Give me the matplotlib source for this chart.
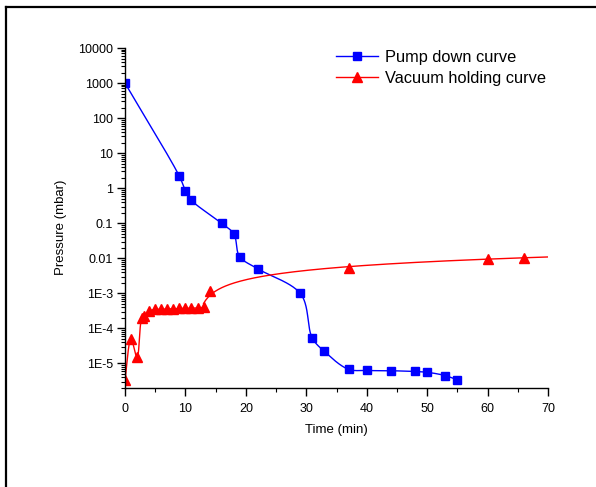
import numpy as np
import matplotlib
matplotlib.use("Agg")
import matplotlib.pyplot as plt
from matplotlib.ticker import LogLocator, FixedLocator, FixedFormatter, MultipleLocator, NullFormatter
from matplotlib.lines import Line2D

plt.rcParams['font.family'] = ['Liberation Sans', 'DejaVu Sans']

# ---- data ----
pump_t = [0, 9, 10, 11, 16, 18, 19, 22, 29, 31, 33, 37, 40, 44, 48, 50, 53, 55]
pump_p = [1000, 2.2, 0.85, 0.45, 0.1, 0.05, 0.011, 0.005, 0.001, 5.3e-5, 2.2e-5,
          6.8e-6, 6.3e-6, 6.2e-6, 5.9e-6, 5.6e-6, 4.5e-6, 3.4e-6]

hold_t = [0, 1, 2, 2.8, 3.2, 4, 5, 6, 7, 8, 9, 10, 11, 12, 13, 14, 37, 60, 66]
hold_p = [3.4e-6, 5e-5, 1.5e-5, 2.0e-4, 2.3e-4, 3.1e-4, 3.5e-4, 3.5e-4, 3.6e-4, 3.6e-4,
          3.7e-4, 3.7e-4, 3.8e-4, 3.8e-4, 4.0e-4, 1.17e-3, 5.3e-3, 9.5e-3, 1.05e-2]

yticks = [1e4, 1e3, 1e2, 1e1, 1, 0.1, 0.01, 1e-3, 1e-4, 1e-5]
ytick_labels = ['10000', '1000', '100', '10', '1', '0.1', '0.01', '1E-3', '1E-4', '1E-5']
xticks = [0, 10, 20, 30, 40, 50, 60, 70]

XR = 70.0
YR = 9.7


def catmull(x, y, n=40):
    """Centripetal Catmull-Rom through points (x, y) in normalised space."""
    P = np.column_stack([np.asarray(x, float) / XR, np.asarray(y, float) / YR])
    P = np.vstack([2 * P[0] - P[1], P, 2 * P[-1] - P[-2]])
    out = []
    for i in range(1, len(P) - 2):
        p0, p1, p2, p3 = P[i - 1], P[i], P[i + 1], P[i + 2]
        t0 = 0.0
        t1 = t0 + np.linalg.norm(p1 - p0) ** 0.5
        t2 = t1 + np.linalg.norm(p2 - p1) ** 0.5
        t3 = t2 + np.linalg.norm(p3 - p2) ** 0.5
        t = np.linspace(t1, t2, n)[:, None]
        A1 = (t1 - t) / (t1 - t0) * p0 + (t - t0) / (t1 - t0) * p1
        A2 = (t2 - t) / (t2 - t1) * p1 + (t - t1) / (t2 - t1) * p2
        A3 = (t3 - t) / (t3 - t2) * p2 + (t - t2) / (t3 - t2) * p3
        B1 = (t2 - t) / (t2 - t0) * A1 + (t - t0) / (t2 - t0) * A2
        B2 = (t3 - t) / (t3 - t1) * A2 + (t - t1) / (t3 - t1) * A3
        C = (t2 - t) / (t2 - t1) * B1 + (t - t1) / (t2 - t1) * B2
        out.append(C)
    C = np.vstack(out)
    return C[:, 0] * XR, C[:, 1] * YR


fig = plt.figure(figsize=(5.96, 4.87), dpi=100)
ax = fig.add_axes([0.2097, 0.2033, 0.7098, 0.6981])

# blue curve
cx, cy = catmull(pump_t, np.log10(pump_p))
ax.plot(cx, 10 ** cy, color='#0000ff', lw=1.0)
ax.plot(pump_t, pump_p, 's', color='#0000ff', ms=5.2, mec='#0000ff')

# red curve: spline for early part, log fit for later part
ht = np.array(hold_t, float); hl = np.log10(hold_p)
early = ht <= 13
cx, cy = catmull(ht[early], hl[early])
ax.plot(cx, 10 ** cy, color='#ff0000', lw=1.0)
late = ht >= 13
b, a = np.polyfit(np.log(ht[late] - 12), hl[late], 1)
tn2 = np.linspace(13, 70, 300)
ax.plot(tn2, 10 ** (a + b * np.log(tn2 - 12)), color='#ff0000', lw=1.0)
ax.plot(ht, hold_p, '^', color='#ff0000', ms=6.5, mec='#ff0000')

ax.set_yscale('log')
ax.set_ylim(10 ** -5.7, 1e4)
ax.set_xlim(0, 70)
ax.yaxis.set_major_locator(FixedLocator(yticks))
ax.yaxis.set_major_formatter(FixedFormatter(ytick_labels))
ax.yaxis.set_minor_locator(LogLocator(base=10, subs=np.arange(2, 10), numticks=50))
ax.yaxis.set_minor_formatter(NullFormatter())
ax.xaxis.set_major_locator(FixedLocator(xticks))
ax.xaxis.set_minor_locator(MultipleLocator(5))

for s in ['top', 'right']:
    ax.spines[s].set_visible(False)
for s in ['left', 'bottom']:
    ax.spines[s].set_linewidth(1.0)
ax.tick_params(which='major', direction='out', length=5.5, width=1, labelsize=9)
ax.tick_params(axis='x', which='major', pad=5)
ax.tick_params(axis='y', which='major', pad=3)
ax.tick_params(which='minor', direction='out', length=3.2, width=0.8)

ax.set_xlabel('Time (min)', fontsize=9.5, labelpad=7)
ax.set_ylabel('Pressure (mbar)', fontsize=9.5)
ax.yaxis.set_label_coords(-0.138, 0.474)

handles = [Line2D([], [], color='#0000ff', marker='s', ms=5.2, lw=1.0),
           Line2D([], [], color='#ff0000', marker='^', ms=6.5, lw=1.0)]
fig.legend(handles, ['Pump down curve', 'Vacuum holding curve'], frameon=False,
           loc='upper left', bbox_to_anchor=(336 / 596, 1 - 50 / 487), fontsize=11.8,
           handlelength=2.56, handletextpad=0.43, labelspacing=0.36,
           borderpad=0, borderaxespad=0)

# figure border (top and left only)
fig.add_artist(Line2D([6 / 596, 1], [1 - 7 / 487, 1 - 7 / 487], color='black', lw=1.6,
                      transform=fig.transFigure))
fig.add_artist(Line2D([6 / 596, 6 / 596], [0, 1 - 7 / 487], color='black', lw=1.6,
                      transform=fig.transFigure))

fig.savefig('out.png', dpi=100)
